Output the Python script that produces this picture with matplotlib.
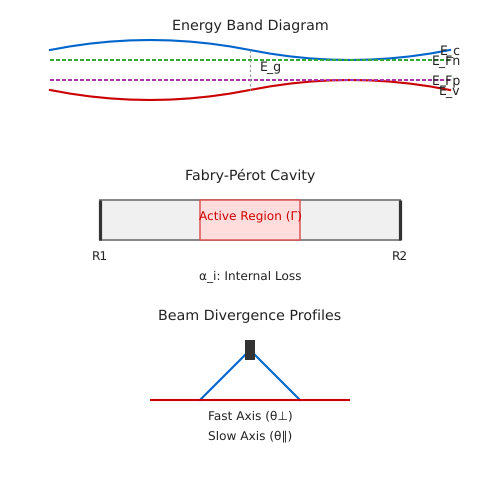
import matplotlib
matplotlib.use("Agg")
import matplotlib.pyplot as plt
from matplotlib.patches import Rectangle

plt.rcParams["text.hinting"] = "no_hinting"
plt.rcParams["text.hinting_factor"] = 8

# Band diagram values (canvas units, y grows downward)
band_x = [50, 70, 90, 110, 130, 150, 170, 190, 210, 230, 250,
          270, 290, 310, 330, 350, 370, 390, 410, 430, 450]
e_c = [50, 46.4, 43.6, 41.6, 40.4, 40, 40.4, 41.6, 43.6, 46.4, 50,
       53.6, 56.4, 58.4, 59.6, 60, 59.6, 58.4, 56.4, 53.6, 50]
e_v = [90, 93.6, 96.4, 98.4, 99.6, 100, 99.6, 98.4, 96.4, 93.6, 90,
       86.4, 83.6, 81.6, 80.4, 80, 80.4, 81.6, 83.6, 86.4, 90]
fermi_x = [50, 450]
e_fn = [60, 60]
e_fp = [80, 80]
gap_x = [250, 250]
gap_y = [50, 90]

# Cavity
cavity_x = [100, 400]
cavity_y = [200, 240]
active_x = [200, 300]

# Beam
emitter_x = [245, 255]
emitter_y = [340, 360]
fast_x = [200, 250, 300]
fast_y = [400, 350, 400]
slow_x = [150, 350]
slow_y = [400, 400]

BLUE, RED, GREEN, PURPLE = "#0066cc", "#cc0000", "#33aa33", "#aa33aa"
DARK, TEXT = "#333333", "#222222"
px = 0.72

fig = plt.figure(figsize=(5, 5), dpi=100, facecolor="white")
ax = fig.add_axes([0, 0, 1, 1])
ax.set_xlim(0, 500)
ax.set_ylim(500, 0)
ax.axis("off")


def label(x, y, s, size=12.15, color=TEXT, ha="left"):
    ax.text(x, y, s, fontsize=size * px, color=color, ha=ha, va="baseline",
            family="DejaVu Sans", zorder=10)


# Energy bands
ax.plot(band_x, e_c, color=BLUE, lw=2.1 * px)
ax.plot(band_x, e_v, color=RED, lw=2.1 * px)
ax.plot(fermi_x, e_fn, color=GREEN, lw=2 * px, dashes=(2, 1))
ax.plot(fermi_x, e_fp, color=PURPLE, lw=2 * px, dashes=(2, 1))
ax.plot(gap_x, gap_y, color="#999999", lw=1.2 * px, dashes=(2, 2))
label(250, 30.5, "Energy Band Diagram", 14.2, ha="center")
label(440, 55, "E_c", 12.5)
label(432, 65, "E_Fn", 12.5)
label(432, 85, "E_Fp", 12.5)
label(439, 95, "E_v", 12.5)
label(260, 71, "E_g", 12.5)

# Cavity
ax.add_patch(Rectangle((cavity_x[0], cavity_y[0]), cavity_x[1] - cavity_x[0],
                       cavity_y[1] - cavity_y[0], fc="#f0f0f0", ec="#888888", lw=2 * px))
ax.add_patch(Rectangle((active_x[0], cavity_y[0]), active_x[1] - active_x[0],
                       cavity_y[1] - cavity_y[0], fc="#ffdddd", ec="#dd5555", lw=1.5 * px))
ax.plot([cavity_x[0]] * 2, cavity_y, color=DARK, lw=3.2 * px, solid_capstyle="butt")
ax.plot([cavity_x[1]] * 2, cavity_y, color=DARK, lw=3.2 * px, solid_capstyle="butt")
label(250, 180, "Fabry-Pérot Cavity", 14.2, ha="center")
label(250, 220, "Active Region (Γ)", 12.1, color=RED, ha="center")
label(100, 259.5, "R1", ha="center")
label(400, 259.5, "R2", ha="center")
label(250, 279.5, "α_i: Internal Loss", ha="center")

# Beam
ax.plot(fast_x[:2], fast_y[:2], color=BLUE, lw=2.1 * px)
ax.plot(fast_x[1:], fast_y[1:], color=BLUE, lw=2.1 * px)
ax.plot(slow_x, slow_y, color=RED, lw=2.1 * px, solid_capstyle="butt")
ax.add_patch(Rectangle((emitter_x[0], emitter_y[0]), emitter_x[1] - emitter_x[0],
                       emitter_y[1] - emitter_y[0], fc=DARK, ec="none", zorder=5))
label(250, 320, "Beam Divergence Profiles", 14.3, ha="center")
label(250, 419.5, "Fast Axis (θ⊥)", ha="center")
label(250, 439.5, "Slow Axis (θ∥)", ha="center")

fig.savefig("out.png", dpi=100)
